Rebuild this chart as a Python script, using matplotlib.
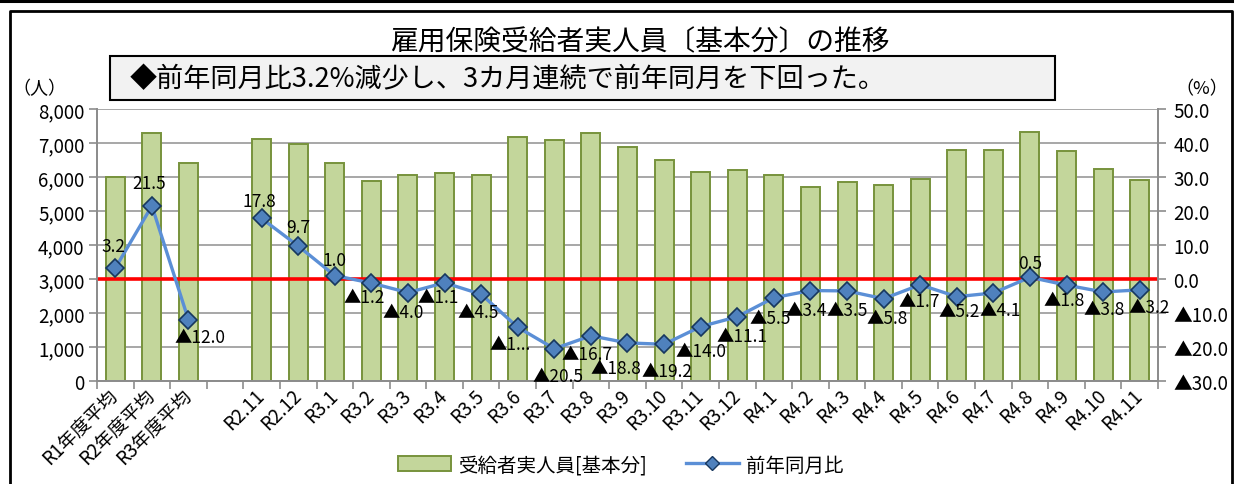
import matplotlib
matplotlib.use('Agg')
import matplotlib.pyplot as plt
import matplotlib.transforms as mtransforms
import numpy as np
from matplotlib.lines import Line2D
from matplotlib.patches import Patch, Rectangle
from matplotlib.ticker import FuncFormatter, MultipleLocator, FixedLocator

plt.rcParams['font.family'] = ['Noto Sans CJK JP', 'DejaVu Sans']

# データ
categories = ['R1年度平均', 'R2年度平均', 'R3年度平均', '',
              'R2.11', 'R2.12', 'R3.1', 'R3.2', 'R3.3', 'R3.4', 'R3.5', 'R3.6',
              'R3.7', 'R3.8', 'R3.9', 'R3.10', 'R3.11', 'R3.12', 'R4.1', 'R4.2',
              'R4.3', 'R4.4', 'R4.5', 'R4.6', 'R4.7', 'R4.8', 'R4.9', 'R4.10', 'R4.11']
recipients = [6000, 7290, 6410, np.nan,
              7120, 6970, 6410, 5880, 6060, 6120, 6060, 7180,
              7090, 7290, 6880, 6500, 6150, 6210, 6060, 5710,
              5850, 5770, 5940, 6790, 6790, 7320, 6770, 6240, 5910]
yoy = [3.2, 21.5, -12.0, np.nan,
       17.8, 9.7, 1.0, -1.2, -4.0, -1.1, -4.5, -14.2,
       -20.5, -16.7, -18.8, -19.2, -14.0, -11.1, -5.5, -3.4,
       -3.5, -5.8, -1.7, -5.2, -4.1, 0.5, -1.8, -3.8, -3.2]
truncated_labels = {'R3.6': '▲1...'}

# ラベル位置（マーカーからのずれ, px, 下向き正）
label_offsets = [(-2, -22), (-3, -23), (12, 17), (0, 0),
                 (-2, -17), (0, -19), (0, -16), (-7, 14), (-5, 19), (-6, 14), (-3, 18), (-8, 17),
                 (4, 27), (-4, 18), (-12, 25), (3, 27), (0, 24), (5, 19), (-4, 20), (-4, 19),
                 (0, 19), (4, 19), (-1, 16), (2, 14), (7, 17), (0, -14), (-2, 15), (1, 17), (9, 17)]

title = '雇用保険受給者実人員〔基本分〕の推移'
subtitle = '◆前年同月比3.2%減少し、3カ月連続で前年同月を下回った。'

W, H = 1235, 485
fig = plt.figure(figsize=(W / 100, H / 100), dpi=100)

# 外枠
fig.add_artist(Line2D([0, 1232 / W], [1 - 2 / H] * 2, color='black', lw=2.2))
fig.add_artist(Line2D([10 / W, 10 / W, 1232 / W, 1232 / W], [0, 1 - 12 / H, 1 - 12 / H, 0],
                      color='black', lw=2.0))

ax = fig.add_axes([97 / W, 1 - 382 / H, (1158 - 97) / W, (382 - 110) / H])
ax2 = ax.twinx()

x = np.arange(len(categories))
bar_x = [i for i in x if not np.isnan(recipients[i])]
bar_h = [recipients[i] for i in bar_x]
ax.bar(bar_x, bar_h, width=0.52, color='#c3d69b', edgecolor='#77933c', linewidth=1.4, zorder=2)

ax.set_xlim(-0.5, len(categories) - 0.5)
ax.set_ylim(0, 8000)
ax.yaxis.set_major_locator(MultipleLocator(1000))
ax.yaxis.set_major_formatter(FuncFormatter(lambda v, p: f'{int(v):,}'))
ax.grid(axis='y', color='#a0a0a0', lw=1.3, zorder=0)
ax.set_axisbelow(True)
ax.set_xticks(x)
ax.set_xticklabels(categories, rotation=45, ha='right', va='center',
                   rotation_mode='anchor', fontsize=13.5)
shift = mtransforms.ScaledTranslation(10 / 100, 0, fig.dpi_scale_trans)
for lbl in ax.get_xticklabels():
    lbl.set_transform(lbl.get_transform() + shift)
ax.xaxis.set_minor_locator(FixedLocator(np.arange(-0.5, len(categories), 1)))
ax.tick_params(axis='x', which='major', length=0, pad=8)
ax.tick_params(axis='x', which='minor', length=6, color='#8c8c8c', width=1.2)
ax.tick_params(axis='y', length=6, color='#8c8c8c', width=1.2, labelsize=13.5, pad=3)
for s in ['top']:
    ax.spines[s].set_visible(False)
    ax2.spines[s].set_visible(False)
for s in ['left', 'right', 'bottom']:
    ax2.spines[s].set_color('#8c8c8c')
    ax2.spines[s].set_linewidth(1.3)
    ax.spines[s].set_color('#8c8c8c')
    ax.spines[s].set_linewidth(1.3)

# 前年同月比
ax2.set_ylim(-30, 50)
ax2.yaxis.set_major_locator(MultipleLocator(10))
ax2.yaxis.set_major_formatter(FuncFormatter(
    lambda v, p: f'{v:.1f}' if v >= -0.01 else f'▲{-v:.1f}'))
ax2.tick_params(axis='y', length=6, color='#8c8c8c', width=1.2, labelsize=13.5, pad=5)
ax2.axhline(0, color='#ff0000', lw=2.6, zorder=1)
ax2.plot(x, yoy, color='#5b8fd6', lw=2.4, marker='D', markersize=9,
         markerfacecolor='#4f81bd', markeredgecolor='#17375e', markeredgewidth=1.2, zorder=3)

for i, v in enumerate(yoy):
    if np.isnan(v):
        continue
    if v >= 0:
        txt = f'{v:.1f}'
    else:
        txt = truncated_labels.get(categories[i], f'▲{-v:.1f}')
    dx, dy = label_offsets[i]
    ax2.annotate(txt, (i, v), xytext=(dx * 0.72, -dy * 0.72), textcoords='offset points',
                 ha='center', va='center', fontsize=12.5, zorder=4)

# タイトル
fig.text(640 / W, 1 - 42 / H, title, ha='center', va='center', fontsize=20)
fig.add_artist(Rectangle((110 / W, 1 - 101 / H), (1055 - 110) / W, 44 / H,
                         transform=fig.transFigure, facecolor='#f2f2f2',
                         edgecolor='black', lw=1.5))
fig.text(130 / W, 1 - 80 / H, subtitle, ha='left', va='center', fontsize=19.5)
fig.text(12 / W, 1 - 89 / H, '（人）', ha='left', va='center', fontsize=13)
fig.text(1228 / W, 1 - 89 / H, '（%）', ha='right', va='center', fontsize=13)

# 凡例
handles = [Patch(facecolor='#c3d69b', edgecolor='#77933c', lw=1.4),
           Line2D([0], [0], color='#5b8fd6', lw=2.4, marker='D', markersize=7,
                  markerfacecolor='#4f81bd', markeredgecolor='#17375e')]
fig.legend(handles, ['受給者実人員[基本分]', '前年同月比'], loc='center',
           bbox_to_anchor=(621 / W, 1 - 466 / H), ncol=2, frameon=False,
           fontsize=14, handlelength=2.7, handleheight=0.8, handletextpad=0.4,
           columnspacing=2.0)

fig.savefig('out.png', dpi=100)
